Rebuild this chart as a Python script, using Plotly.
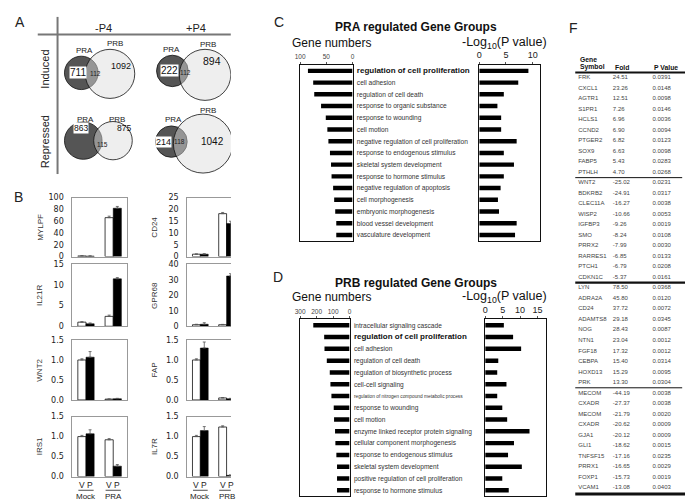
import plotly.graph_objects as go

W, H = 693, 502
FONT = "Liberation Sans, Arial, sans-serif"
BOLDNUM = "DejaVu Sans, sans-serif"

# ---------------- data: panel A (Venn counts) ----------------
venn_conditions = ["-P4", "+P4"]
venn_directions = ["Induced", "Repressed"]
venn_pra_only = [711, 222, 863, 214]
venn_overlap = [112, 112, 115, 118]
venn_prb_only = [1092, 894, 875, 1042]

# ---------------- data: panel B (qPCR fold, V = vehicle, P = progestin) ----------------
b_groups_left = ["Mock", "PRA"]
b_groups_right = ["Mock", "PRB"]
mylpf_v = [1.0, 66.0];  mylpf_v_err = [0.4, 2.5];  mylpf_p = [0.8, 82.0];  mylpf_p_err = [0.3, 3.0]
cd24_v = [1.0, 18.2];   cd24_v_err = [0.1, 0.5];   cd24_p = [1.0, 14.0];   cd24_p_err = [0.2, 1.0]
il21r_v = [1.0, 2.4];   il21r_v_err = [0.1, 0.3];  il21r_p = [0.6, 11.5];  il21r_p_err = [0.2, 0.3]
gpr68_v = [1.0, 1.0];   gpr68_v_err = [0.3, 0.2];  gpr68_p = [1.3, 32.5];  gpr68_p_err = [1.0, 1.5]
wnt2_v = [1.0, 0.02];   wnt2_v_err = [0.03, 0.005]; wnt2_p = [1.07, 0.03]; wnt2_p_err = [0.14, 0.01]
fap_v = [1.0, 0.05];    fap_v_err = [0.03, 0.01];  fap_p = [1.30, 0.03];   fap_p_err = [0.15, 0.01]
irs1_v = [1.0, 0.92];   irs1_v_err = [0.03, 0.03]; irs1_p = [1.07, 0.26];  irs1_p_err = [0.10, 0.04]
il7r_v = [1.0, 1.24];   il7r_v_err = [0.03, 0.03]; il7r_p = [1.15, 0.03];  il7r_p_err = [0.10, 0.01]
b_yticks = {"MYLPF": [0, 20, 40, 60, 80, 100], "CD24": [0, 5, 10, 15, 20, 25],
            "IL21R": [0, 5, 10, 15], "GPR68": [0, 10, 20, 30, 40],
            "WNT2": [0, 0.5, 1.0, 1.5], "FAP": [0, 0.5, 1.0, 1.5],
            "IRS1": [0, 0.5, 1.0, 1.5], "IL7R": [0, 0.5, 1.0, 1.5]}

# ---------------- data: panel C ----------------
pra_terms = ["regulation of cell proliferation", "cell adhesion", "regulation of cell death",
             "response to organic substance", "response to wounding", "cell motion",
             "negative regulation of cell proliferation", "response to endogenous stimulus",
             "skeletal system development", "response to hormone stimulus",
             "negative regulation of apoptosis", "cell morphogenesis", "embryonic morphogenesis",
             "blood vessel development", "vasculature development"]
pra_gene_numbers = [85, 75, 73, 60, 51, 48, 46, 43, 41, 40, 37, 35, 33, 31, 31]
pra_neglog_p = [9.2, 7.3, 4.6, 3.4, 4.1, 4.1, 7.0, 4.6, 6.5, 4.6, 4.0, 3.5, 3.7, 7.0, 6.7]

# ---------------- data: panel D ----------------
prb_terms = ["intracellular signaling cascade", "regulation of cell proliferation", "cell adhesion",
             "regulation of cell death", "regulation of biosynthetic process", "cell-cell signaling",
             "regulation of nitrogen compound metabolic process", "response to wounding", "cell motion",
             "enzyme linked receptor protein signaling", "cellular component morphogenesis",
             "response to endogenous stimulus", "skeletal system development",
             "positive regulation of cell proliferation", "response to hormone stimulus"]
prb_gene_numbers = [220, 154, 152, 138, 120, 116, 110, 96, 94, 88, 86, 80, 76, 76, 76]
prb_neglog_p = [5.35, 8.0, 10.3, 3.75, 3.45, 6.1, 3.45, 4.9, 6.3, 12.7, 8.25, 6.55, 10.5, 4.9, 6.75]

# ---------------- data: panel F (table) ----------------
pra_up_symbols = ["FRK", "CXCL1", "AGTR1", "S1PR1", "HCLS1", "CCND2", "PTGER2", "SOX9", "FABP5", "PTHLH"]
pra_up_fold = [24.51, 23.26, 12.51, 7.26, 6.96, 6.90, 6.82, 6.63, 5.43, 4.70]
pra_up_p = ["0.0391", "0.0148", "0.0098", "0.0146", "0.0036", "0.0094", "0.0123", "0.0098", "0.0283", "0.0268"]
pra_dn_symbols = ["WNT2", "BDKRB2", "CLEC11A", "WISP2", "IGFBP3", "SMO", "PRRX2", "RARRES1", "PTCH1", "CDKN1C"]
pra_dn_fold = [-25.02, -24.91, -16.27, -10.66, -9.26, -8.24, -7.99, -6.85, -6.79, -5.37]
pra_dn_p = ["0.0231", "0.0317", "0.0038", "0.0053", "0.0019", "0.0108", "0.0030", "0.0133", "0.0208", "0.0161"]
prb_up_symbols = ["LYN", "ADRA2A", "CD24", "ADAMTS8", "NOG", "NTN1", "FGF18", "CEBPA", "HOXD13", "PRK"]
prb_up_fold = [78.50, 45.80, 37.72, 29.18, 28.43, 23.04, 17.32, 15.40, 15.29, 13.30]
prb_up_p = ["0.0368", "0.0120", "0.0072", "0.0345", "0.0087", "0.0012", "0.0012", "0.0314", "0.0095", "0.0304"]
prb_dn_symbols = ["MECOM", "CXADR", "MECOM", "CXADR", "GJA1", "GLI1", "TNFSF15", "PRRX1", "FOXP1", "VCAM1"]
prb_dn_fold = [-44.19, -27.37, -21.79, -20.62, -20.12, -18.62, -17.16, -16.65, -15.73, -13.08]
prb_dn_p = ["0.0038", "0.0038", "0.0020", "0.0009", "0.0009", "0.0015", "0.0235", "0.0029", "0.0019", "0.0403"]

# ================= helpers (pixel layout) =================
def dx(x0, x1):
    return [x0 / W, x1 / W]

def dy(y0, y1):
    return [1 - y1 / H, 1 - y0 / H]

def py(y):
    return 1 - y / H

def pxx(x):
    return x / W

fig = go.Figure()
layout = dict(width=W, height=H, margin=dict(l=0, r=0, t=0, b=0), paper_bgcolor="white",
              plot_bgcolor="rgba(0,0,0,0)", showlegend=False, font=dict(family=FONT, color="#222"),
              barmode="overlay")
annotations = []
shapes = []
counter = [0]

def add_axes(xdom, ydom, xopts, yopts):
    counter[0] += 1
    i = counter[0]
    s = "" if i == 1 else str(i)
    layout["xaxis" + s] = dict(domain=xdom, anchor="y" + s, fixedrange=True, **xopts)
    layout["yaxis" + s] = dict(domain=ydom, anchor="x" + s, fixedrange=True, **yopts)
    return "x" + s, "y" + s

def ann(text, x, y, size=9, xref="paper", yref="paper", color="#222", angle=0, xanchor="center",
        yanchor="middle", bg=None, family=FONT):
    d = dict(text=text, x=x, y=y, xref=xref, yref=yref, showarrow=False, textangle=angle,
             font=dict(size=size, color=color, family=family), xanchor=xanchor, yanchor=yanchor)
    if bg:
        d.update(bgcolor=bg, borderpad=0)
    annotations.append(d)

# panel letters
for letter, (lx, ly) in zip("ABCDF", [(7, 10), (6, 188), (269, 10), (268, 270), (566, 16)]):
    ann(letter, pxx(lx), py(ly), size=14)

# ================= Panel A : Venn diagrams =================
xa, ya = add_axes(dx(0, 220), dy(0, 170), dict(range=[0, 220], visible=False),
                  dict(range=[170, 0], visible=False))
fig.add_trace(go.Scatter(x=[0, 220], y=[0, 170], mode="markers", marker=dict(opacity=0, size=1),
                         xaxis=xa, yaxis=ya, hoverinfo="skip"))
# circle geometry (layout): PRA centre/radius, PRB centre/radius
venn_geom = [((69, 62), 17, (98, 63), 25), ((161, 60), 16, (194, 64), 26),
             ((71, 131), 19, (101, 131), 19.5), ((160, 132), 16, (192, 134), 30)]
pra_label_pos = [(72, 39), (160, 38), (73, 109), (162, 109)]
prb_label_pos = [(103, 32), (197, 33), (105, 109), (197, 100)]
pra_num_pos = [(66, 62), (158, 60), (69, 118), (152, 132)]
ov_num_pos = [(83, 63), (174, 62), (90, 135), (168, 132)]
prb_num_pos = [(109, 55), (201, 50), (112, 118), (202, 132)]
pra_num_size = [10, 10, 8.5, 9]
prb_num_size = [9, 10.5, 8.5, 10]
shapes.append(dict(type="line", xref="paper", yref="paper", x0=pxx(45), x1=pxx(45), y0=py(5), y1=py(165),
                   line=dict(color="#777", width=2)))
shapes.append(dict(type="line", xref="paper", yref="paper", x0=pxx(25), x1=pxx(220), y0=py(23), y1=py(23),
                   line=dict(color="#777", width=2)))
for j, c in enumerate(venn_conditions):
    ann(c, pxx([91, 185][j]), py(16), size=11)
for j, d in enumerate(venn_directions):
    ann(d, pxx(32), py([58, 132][j]), size=11, angle=-90)
for k in range(4):
    (acx, acy), ar, (bcx, bcy), br = venn_geom[k]
    shapes.append(dict(type="circle", xref=xa, yref=ya, x0=acx - ar, x1=acx + ar, y0=acy - ar, y1=acy + ar,
                       fillcolor="#555555", line=dict(color="#111", width=0.8), layer="above"))
    shapes.append(dict(type="circle", xref=xa, yref=ya, x0=bcx - br, x1=bcx + br, y0=bcy - br, y1=bcy + br,
                       fillcolor="rgba(220,220,220,0.48)", line=dict(color="#111", width=0.8), layer="above"))
    ann("PRA", pra_label_pos[k][0], pra_label_pos[k][1], size=8, xref=xa, yref=ya)
    ann("PRB", prb_label_pos[k][0], prb_label_pos[k][1], size=8, xref=xa, yref=ya)
    ann(str(venn_pra_only[k]), pra_num_pos[k][0], pra_num_pos[k][1], size=pra_num_size[k], xref=xa, yref=ya,
        bg="white", color="#111")
    ann(str(venn_overlap[k]), ov_num_pos[k][0], ov_num_pos[k][1], size=6.5, xref=xa, yref=ya, color="#222")
    ann(str(venn_prb_only[k]), prb_num_pos[k][0], prb_num_pos[k][1], size=prb_num_size[k], xref=xa, yref=ya,
        color="#111")

# ================= Panel B : bar charts =================
b_panels = [("MYLPF", mylpf_v, mylpf_v_err, mylpf_p, mylpf_p_err),
            ("CD24", cd24_v, cd24_v_err, cd24_p, cd24_p_err),
            ("IL21R", il21r_v, il21r_v_err, il21r_p, il21r_p_err),
            ("GPR68", gpr68_v, gpr68_v_err, gpr68_p, gpr68_p_err),
            ("WNT2", wnt2_v, wnt2_v_err, wnt2_p, wnt2_p_err),
            ("FAP", fap_v, fap_v_err, fap_p, fap_p_err),
            ("IRS1", irs1_v, irs1_v_err, irs1_p, irs1_p_err),
            ("IL7R", il7r_v, il7r_v_err, il7r_p, il7r_p_err)]
col_x = [(60, 115), (176, 220)]
col_range = [[-0.5, 1.5], [-0.5, 1.16]]
col_title_x = [27, 143]
row_y = [(189, 249), (257, 320), (334, 395), (412, 473)]
for k, (gene, v, verr, p, perr) in enumerate(b_panels):
    col, row = k % 2, k // 2
    groups = b_groups_left if col == 0 else b_groups_right
    ticks = b_yticks[gene]
    fmt = ".1f" if ticks[-1] < 2 else "d"
    xk, yk = add_axes(dx(*col_x[col]), dy(*row_y[row]),
                      dict(type="category", range=col_range[col], showticklabels=False, ticks="",
                           showline=True, mirror=True, linecolor="#999", linewidth=1, showgrid=False),
                      dict(range=[0, ticks[-1]], tickvals=ticks, tickformat=fmt, ticks="",
                           showline=True, mirror=(col == 0), linecolor="#999", linewidth=1,
                           showgrid=False, zeroline=False, ticklabelstandoff=6,
                           tickfont=dict(family=BOLDNUM, size=8, color="#222")))
    fig.add_trace(go.Bar(x=groups, y=v, xaxis=xk, yaxis=yk, offset=-0.3, width=0.3,
                         marker=dict(color="white", line=dict(color="#111", width=0.8)),
                         error_y=dict(type="data", array=verr, arrayminus=[0] * len(v), symmetric=False,
                                      color="#555", thickness=0.8, width=1.5)))
    fig.add_trace(go.Bar(x=groups, y=p, xaxis=xk, yaxis=yk, offset=0.0, width=0.3,
                         marker=dict(color="black", line=dict(color="black", width=0.5)),
                         error_y=dict(type="data", array=perr, arrayminus=[0] * len(p), symmetric=False,
                                      color="#555", thickness=0.8, width=1.5)))
    ann(gene, pxx(col_title_x[col]), py((row_y[row][0] + row_y[row][1]) / 2), size=8, angle=-90, color="#333")
    if row == 3:
        for gi, g in enumerate(groups):
            ann("V", gi - 0.15, py(482), size=8.5, xref=xk, color="#222")
            ann("P", gi + 0.15, py(482), size=8.5, xref=xk, color="#222")
            ann(g, gi, py(493), size=8, xref=xk, color="#222")
            shapes.append(dict(type="line", xref=xk, yref="paper", x0=gi - 0.28, x1=gi + 0.28,
                               y0=py(487), y1=py(487), line=dict(color="#222", width=0.8)))

# ================= Panels C and D : GO term bar charts =================
def go_panel(title, title_y, sub_y, terms, counts, logp, box_y, left_x, left_range, left_ticks,
             right_x, right_range, right_ticks, label_sizes):
    n = len(terms)
    yr = [n - 0.5, -0.5]
    ticktext = []
    for t, s in zip(terms, label_sizes):
        if s == "bold":
            ticktext.append("<b><span style='font-size:8px;color:#111'>" + t + "</span></b>")
        elif s == "small":
            ticktext.append("<span style='font-size:4.8px'>" + t + "</span>")
        else:
            ticktext.append(t)
    xl, yl = add_axes(dx(*left_x), dy(*box_y),
                      dict(range=left_range, side="top", tickvals=left_ticks, ticks="outside", ticklen=2,
                           tickcolor="#555", tickfont=dict(size=6.5, color="#444"), showline=True,
                           mirror=True, linecolor="#111", linewidth=1, showgrid=False, zeroline=False),
                      dict(range=yr, side="right", tickvals=list(range(n)), ticktext=ticktext, ticks="",
                           tickfont=dict(size=6.6, color="#333"), showline=True, mirror=True,
                           linecolor="#111", linewidth=1, showgrid=False, ticklabelstandoff=2))
    fig.add_trace(go.Bar(x=counts, y=list(range(n)), orientation="h", width=0.38, xaxis=xl, yaxis=yl,
                         marker=dict(color="black", line=dict(width=0))))
    xr, yr2 = add_axes(dx(*right_x), dy(*box_y),
                       dict(range=right_range, side="top", tickvals=right_ticks, ticks="outside", ticklen=2,
                            tickcolor="#555", tickfont=dict(size=9, color="#222"), showline=True,
                            mirror=True, linecolor="#111", linewidth=1, showgrid=False, zeroline=False,
                            ticklabelstandoff=0),
                       dict(range=yr, showticklabels=False, ticks="", showline=True, mirror=True,
                            linecolor="#111", linewidth=1, showgrid=False))
    fig.add_trace(go.Bar(x=logp, y=list(range(n)), orientation="h", width=0.38, xaxis=xr, yaxis=yr2,
                         marker=dict(color="black", line=dict(width=0))))
    ann("<b>" + title + "</b>", pxx(407), py(title_y), size=12, color="#111")
    ann("Gene numbers", pxx(322), py(sub_y), size=12, color="#111")
    ann("-Log<sub>10</sub>(P value)", pxx(497), py(sub_y), size=12.5, color="#111")

go_panel("PRA regulated Gene Groups", 15, 32, pra_terms, pra_gene_numbers, pra_neglog_p, (54, 233),
         (290, 343), [100, 0], [0, 50, 100], (471, 532), [0, 11.3], [0, 5, 10],
         ["bold"] + ["n"] * 14)
go_panel("PRB regulated Gene Groups", 276, 290, prb_terms, prb_gene_numbers, prb_neglog_p, (313, 493),
         (290, 340), [300, 0], [0, 100, 200, 300], (477, 538), [0, 17.3], [0, 5, 10, 15],
         ["n", "bold", "n", "n", "n", "n", "small"] + ["n"] * 8)

# ================= Panel F : table =================
row_px0, row_step = 67.0, 10.7
xt, yt = add_axes(dx(560, 693), [0, 1], dict(range=[560, 693], visible=False),
                  dict(range=[(H - row_px0) / row_step, -row_px0 / row_step], visible=False))
symbols = pra_up_symbols + pra_dn_symbols + prb_up_symbols + prb_dn_symbols
folds = pra_up_fold + pra_dn_fold + prb_up_fold + prb_dn_fold
pvals = pra_up_p + pra_dn_p + prb_up_p + prb_dn_p
rows = list(range(len(symbols)))
COL_SYMBOL, COL_FOLD, COL_P = 571, 606, 646
for colx, texts in [(COL_SYMBOL, symbols), (COL_FOLD, ["%.2f" % f for f in folds]), (COL_P, pvals)]:
    fig.add_trace(go.Scatter(x=[colx] * len(texts), y=rows, mode="text", text=texts,
                             textposition="middle right", xaxis=xt, yaxis=yt, hoverinfo="skip",
                             textfont=dict(size=6, color="#444", family=FONT)))
ann("<b>Gene</b>", COL_SYMBOL, -1.75, size=6.8, xref=xt, yref=yt, xanchor="left", color="#111")
for colx, h in [(COL_SYMBOL, "Symbol"), (COL_FOLD, "Fold"), (COL_P, "P Value")]:
    ann("<b>" + h + "</b>", colx, -1.0, size=6.8, xref=xt, yref=yt, xanchor="left", color="#111")
for yline, w, x1 in [(-0.5, 2, 693), (9.5, 1, 676), (19.5, 2.2, 693), (29.5, 1, 676), (39.6, 3, 693)]:
    shapes.append(dict(type="line", xref=xt, yref=yt, x0=568, x1=x1, y0=yline, y1=yline,
                       line=dict(color="#111", width=w)))
ann("<b>PRA-Regulated Genes (Go Term: Cell Proliferation)</b>", 684, 9.5, size=7.4, xref=xt, yref=yt,
    angle=90, color="#111")
ann("<b>PRB-Regulated Genes (Go Term: Cell Proliferation)</b>", 684, 29.5, size=7.4, xref=xt, yref=yt,
    angle=90, color="#111")

layout["annotations"] = annotations
layout["shapes"] = shapes
fig.update_layout(**layout)
fig.write_html("out.html")
